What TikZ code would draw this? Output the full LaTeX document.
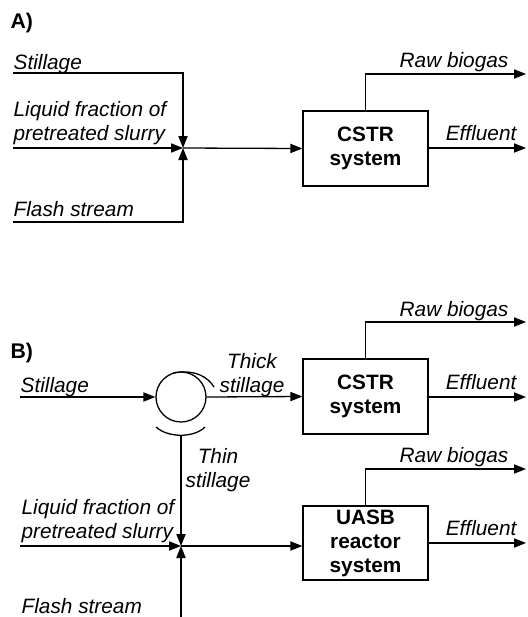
\documentclass[tikz,border=0pt]{standalone}
\usepackage{fontspec}
\setmainfont{Liberation Sans}
\usetikzlibrary{arrows.meta}
\begin{document}
\begin{tikzpicture}[x=0.5pt,y=-0.5pt,
  line width=0.65pt,
  arr/.style={-{Triangle[length=6pt,width=4.6pt]}},
  lbl/.style={font=\fontsize{10.4}{12}\selectfont\itshape, inner sep=0pt, align=left},
  lblc/.style={font=\fontsize{10.4}{12}\selectfont\itshape, inner sep=0pt, align=center},
  ttl/.style={font=\fontsize{10.6}{12}\selectfont\bfseries, inner sep=0pt},
  procbox/.style={draw, minimum width=62.5pt, minimum height=37.5pt, font=\fontsize{10.4}{12}\selectfont\bfseries, align=center, inner sep=0pt},
  sepcirc/.style={draw, circle, minimum size=25pt, inner sep=0pt}]
\useasboundingbox (0,0) rectangle (527,617);

% ---------------- Part A ----------------
\node[ttl, anchor=base west] (tA) at (10,28) {A)};
\node[lbl, anchor=base west] (lStA) at (13,69) {Stillage};
\node[lbl, anchor=base west] (lLqA) at (13,140) {Liquid fraction of\\pretreated slurry};
\node[lbl, anchor=base west] (lFlA) at (13,216) {Flash stream};

\coordinate (sA) at (13,73);
\coordinate (qA) at (13,148);
\coordinate (fA) at (13,222);
\coordinate (jA) at (183,148);

\node[procbox] (cstrA) at (365.5,148.5) {CSTR\\system};

\draw[arr] (sA) -| (jA);
\draw[arr] (qA) -- (jA);
\draw[arr] (fA) -| (jA);
\draw[arr] (jA) -- (cstrA.west);

\coordinate (rbA) at (526,74);
\coordinate (efA) at (526,148);
\draw[arr] (cstrA.north) |- (rbA);
\draw[arr] (cstrA.east |- efA) -- (efA);
\node[lbl, anchor=base east] (lRbA) at (509,67) {Raw biogas};
\node[lbl, anchor=base east] (lEfA) at (517,140) {Effluent};

% ---------------- Part B ----------------
\node[ttl, anchor=base west] (tB) at (10,358) {B)};
\node[lbl, anchor=base west] (lStB) at (20,392) {Stillage};
\node[lblc, anchor=base] (lThk) at (252,392) {Thick\\stillage};
\node[lblc, anchor=base] (lThn) at (218,487) {Thin\\stillage};
\node[lbl, anchor=base west] (lLqB) at (21,538) {Liquid fraction of\\pretreated slurry};
\node[lbl, anchor=base west] (lFlB) at (21,613) {Flash stream};

\node[sepcirc] (sep) at (181,397) {};
\draw (173,373) .. controls (195,369) and (208,377) .. (214,387);
\draw (156,427) .. controls (168,438) and (194,438) .. (205,427);

\coordinate (sB) at (20,397);
\coordinate (thn) at (181,435);
\coordinate (qB) at (20,546);
\coordinate (fB) at (181,617);
\coordinate (jB) at (181,546);

\node[procbox] (cstrB) at (365.5,396.5) {CSTR\\system};
\node[procbox, minimum height=37pt] (uasb) at (365.5,543) {UASB\\reactor\\system};

\draw[arr] (sB) -- (sep.west);
\draw[arr] (sep.east) -- (cstrB.west);
\draw[arr] (thn) -- (jB);
\draw[arr] (qB) -- (jB);
\draw[arr] (fB) -- (jB);
\draw[arr] (jB) -- (uasb.west |- jB);

\coordinate (rbB) at (526,322);
\coordinate (efB) at (526,397);
\draw[arr] (cstrB.north) |- (rbB);
\draw[arr] (cstrB.east |- efB) -- (efB);
\node[lbl, anchor=base east] (lRbB) at (509,316) {Raw biogas};
\node[lbl, anchor=base east] (lEfB) at (517,389) {Effluent};

\coordinate (rbU) at (526,469);
\coordinate (efU) at (526,543);
\draw[arr] (uasb.north) |- (rbU);
\draw[arr] (uasb.east |- efU) -- (efU);
\node[lbl, anchor=base east] (lRbU) at (509,462) {Raw biogas};
\node[lbl, anchor=base east] (lEfU) at (517,535) {Effluent};
\end{tikzpicture}
\end{document}
